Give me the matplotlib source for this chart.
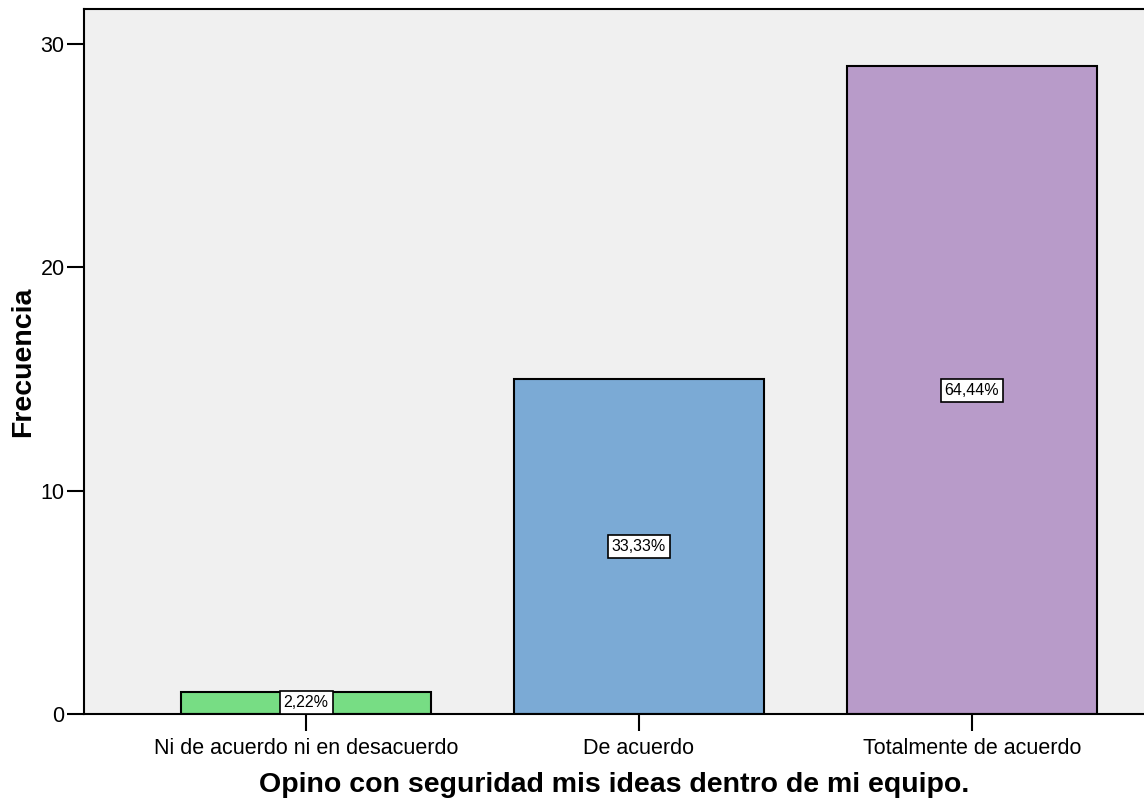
import matplotlib.pyplot as plt
import numpy as np

plt.rcParams['font.family'] = ['Liberation Sans', 'DejaVu Sans']

# Datos
categorias = ['Ni de acuerdo ni en desacuerdo', 'De acuerdo', 'Totalmente de acuerdo']
frecuencias = [1, 15, 29]
porcentajes = ['2,22%', '33,33%', '64,44%']
colores = ['#77DD84', '#7BAAD5', '#B89BC9']

fig = plt.figure(figsize=(11.44, 7.98), dpi=100)
ax = fig.add_axes([0.0734, 0.1053, 0.9266, 0.8834])
ax.set_facecolor('#F0F0F0')

x = np.arange(len(categorias))
ax.bar(x, frecuencias, width=0.75, color=colores, edgecolor='black', linewidth=1.5, zorder=2)

# Etiquetas de porcentaje
for xi, f, p in zip(x, frecuencias, porcentajes):
    ax.text(xi, f / 2, p, ha='center', va='center', fontsize=11.5, zorder=3,
            bbox=dict(boxstyle='square,pad=0.25', facecolor='white', edgecolor='black', linewidth=1.2))

ax.set_xlim(-0.667, 2.517)
ax.set_ylim(0, 31.57)
ax.set_yticks([0, 10, 20, 30])
ax.set_xticks(x)
ax.set_xticklabels(categorias)
ax.tick_params(axis='both', direction='out', length=12, width=1.5, labelsize=15.5)
ax.tick_params(axis='x', pad=5)
ax.tick_params(axis='y', pad=2)

for s in ['left', 'bottom', 'top']:
    ax.spines[s].set_linewidth(1.5)
ax.spines['right'].set_visible(False)

ax.set_ylabel('Frecuencia', fontsize=20.5, fontweight='bold', labelpad=3)
ax.set_xlabel('Opino con seguridad mis ideas dentro de mi equipo.', fontsize=20.5, fontweight='bold', labelpad=10)

fig.savefig('out.png', dpi=100)
